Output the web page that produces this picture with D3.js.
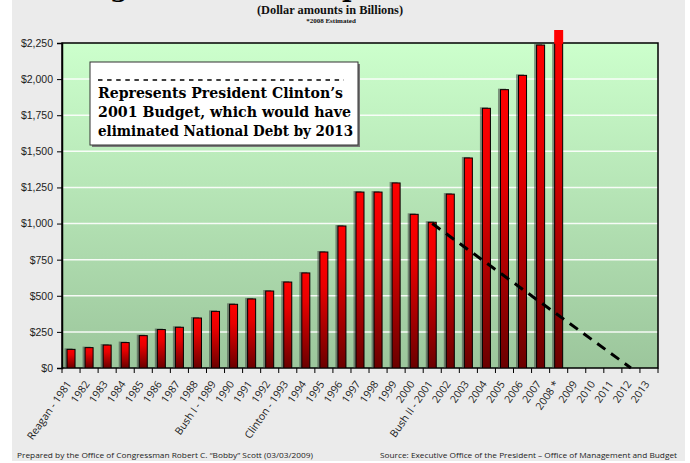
<!DOCTYPE html>
<html><head><meta charset="utf-8">
<script src="https://cdn.jsdelivr.net/npm/d3@7"></script>
<style>html,body{margin:0;padding:0;background:#fff;} svg{display:block}</style>
</head><body>
<svg id="chart" width="690" height="463"></svg>
<script>
// ---------- data ----------
const years = ["1981","1982","1983","1984","1985","1986","1987","1988","1989","1990","1991","1992","1993","1994","1995","1996","1997","1998","1999","2000","2001","2002","2003","2004","2005","2006","2007","2008","2009","2010","2011","2012","2013"];
const yearLabels = ["Reagan - 1981","1982","1983","1984","1985","1986","1987","1988","Bush I - 1989","1990","1991","1992","Clinton - 1993","1994","1995","1996","1997","1998","1999","2000","Bush II - 2001","2002","2003","2004","2005","2006","2007","2008 *","2009","2010","2011","2012","2013"];
const debtValues = [129,141,159,176,224,266,282,346,392,441,478,533,595,658,803,983,1218,1218,1281,1064,1009,1204,1454,1798,1927,2026,2236,2340,null,null,null,null,null];
const clintonYears = ["2001","2012"];
const clintonValues = [1000, 0];
const yTicks = [0,250,500,750,1000,1250,1500,1750,2000,2250];
const titleText = "Budget & Debt Comparison";
const subtitleText = "(Dollar amounts in Billions)";
const noteText = "*2008 Estimated";
const legendLines = ["Represents President Clinton\u2019s","2001 Budget, which would have","eliminated National Debt by 2013"];
const footLeft = "Prepared by the Office of Congressman Robert C. \u201cBobby\u201d Scott (03/03/2009)";
const footRight = "Source: Executive Office of the President \u2013 Office of Management and Budget";

// ---------- layout ----------
const W = 690, H = 463;
const plot = {left: 62, right: 658, top: 43, bottom: 368};
const svg = d3.select("#chart");
const defs = svg.append("defs");

const bgGrad = defs.append("linearGradient").attr("id","bgGrad").attr("x1",0).attr("y1",0).attr("x2",0).attr("y2",1);
bgGrad.append("stop").attr("offset","0%").attr("stop-color","#ccffcc");
bgGrad.append("stop").attr("offset","100%").attr("stop-color","#9cc69c");

const barGrad = defs.append("linearGradient").attr("id","barGrad").attr("x1",0).attr("y1",0).attr("x2",0).attr("y2",1);
barGrad.append("stop").attr("offset","0%").attr("stop-color","#ff0000");
barGrad.append("stop").attr("offset","30%").attr("stop-color","#e80000");
barGrad.append("stop").attr("offset","100%").attr("stop-color","#6a0000");

defs.append("clipPath").attr("id","plotClip").append("rect")
  .attr("x",plot.left-4).attr("y",plot.top).attr("width",plot.right-plot.left+8).attr("height",plot.bottom-plot.top);

// page background
svg.append("rect").attr("x",0).attr("y",0).attr("width",W).attr("height",H).attr("fill","#ffffff");
svg.append("rect").attr("x",12).attr("y",0).attr("width",673).attr("height",461).attr("fill","#ebebeb");

const x = d3.scaleBand().domain(years).range([plot.left, plot.right]).padding(0);
const y = d3.scaleLinear().domain([0, 2250]).range([plot.bottom, plot.top]);

// plot area
svg.append("rect").attr("x",plot.left).attr("y",plot.top)
  .attr("width",plot.right-plot.left).attr("height",plot.bottom-plot.top).attr("fill","url(#bgGrad)");

// gridlines
svg.append("g").selectAll("line").data(yTicks.filter(d => d > 0 && d < 2250)).join("line")
  .attr("x1",plot.left).attr("x2",plot.right).attr("y1",d=>y(d)).attr("y2",d=>y(d))
  .attr("stroke","#ffffff").attr("stroke-width",1.5).attr("opacity",0.9);

// frame
svg.append("rect").attr("x",plot.left).attr("y",plot.top)
  .attr("width",plot.right-plot.left).attr("height",plot.bottom-plot.top)
  .attr("fill","none").attr("stroke","#000").attr("stroke-width",1.5);

// bars
const barData = years.map((yr,i)=>({yr, v: debtValues[i]})).filter(d => d.v != null);
const bw = 8;
const cx = d => x(d.yr) + x.bandwidth()/2;
const gBars = svg.append("g").attr("clip-path","url(#plotClip)");
gBars.selectAll("rect.shadow").data(barData).join("rect").attr("class","shadow")
  .attr("x",d=>cx(d)-bw/2-2.5).attr("y",d=>y(d.v)-1)
  .attr("width",bw).attr("height",d=>plot.bottom-y(d.v)+1)
  .attr("fill","#404040").attr("opacity",0.55);
gBars.selectAll("rect.bar").data(barData).join("rect").attr("class","bar")
  .attr("x",d=>cx(d)-bw/2).attr("y",d=>y(d.v))
  .attr("width",bw).attr("height",d=>plot.bottom-y(d.v))
  .attr("fill","url(#barGrad)").attr("stroke","#000").attr("stroke-width",1);
// overflow part of bars above the top of the axis
svg.append("g").selectAll("rect").data(barData.filter(d=>d.v>2250)).join("rect")
  .attr("x",d=>cx(d)-bw/2-0.5).attr("y",d=>y(d.v))
  .attr("width",bw+1).attr("height",d=>plot.top-y(d.v)+0.8)
  .attr("fill","#ff0000");

// Clinton budget dashed line
const lineData = clintonYears.map((yr,i)=>({yr, v: clintonValues[i]}));
svg.append("path").datum(lineData)
  .attr("d", d3.line().x(d=>x(d.yr)+x.bandwidth()/2).y(d=>y(d.v)))
  .attr("fill","none").attr("stroke","#000").attr("stroke-width",3)
  .attr("stroke-dasharray","10,7");

// y axis
const yAxis = svg.append("g").attr("transform",`translate(${plot.left},0)`)
  .call(d3.axisLeft(y).tickValues(yTicks).tickFormat(d=>"$"+d3.format(",")(d)).tickSize(5).tickPadding(4));
yAxis.select(".domain").attr("stroke","#000").attr("stroke-width",1.5);
yAxis.selectAll(".tick line").attr("stroke","#000");
yAxis.selectAll("text").attr("font-family","Liberation Sans, Arial, sans-serif").attr("font-size",10.5).attr("fill","#222");

// x axis ticks at boundaries
const bounds = years.map(d=>x(d)).concat([plot.right]);
svg.append("g").selectAll("line").data(bounds).join("line")
  .attr("x1",d=>d).attr("x2",d=>d).attr("y1",plot.bottom).attr("y2",plot.bottom+5)
  .attr("stroke","#000").attr("stroke-width",1);
// x labels
svg.append("g").selectAll("text").data(years).join("text")
  .attr("transform",(d)=>`translate(${x(d)+x.bandwidth()/2+1},${plot.bottom+16}) rotate(-55)`)
  .attr("text-anchor","end")
  .attr("font-family","Open Sans, Liberation Sans, sans-serif").attr("font-size",10.5).attr("fill","#222")
  .text((d,i)=>yearLabels[i]);

// title (mostly cropped above the picture)
const title = svg.append("text").text(titleText)
  .attr("font-family","DejaVu Serif, serif").attr("font-weight","bold").attr("font-size",36).attr("fill","#000");
{
  const node = title.node();
  const gi = titleText.indexOf("g"), pi = titleText.indexOf("p");
  let gx = node.getStartPositionOfChar(gi).x, px = node.getStartPositionOfChar(pi).x;
  const fs = 36 * (342-110)/(px-gx);
  title.attr("font-size",fs);
  gx = node.getStartPositionOfChar(gi).x;
  title.attr("x",110-gx).attr("y",3-0.23*fs);
}

svg.append("text").attr("x",330).attr("y",14).attr("text-anchor","middle")
  .attr("font-family","Liberation Serif, serif").attr("font-weight","bold").attr("font-size",12)
  .attr("textLength",146).attr("lengthAdjust","spacingAndGlyphs").attr("fill","#111").text(subtitleText);
svg.append("text").attr("x",331).attr("y",23).attr("text-anchor","middle")
  .attr("font-family","Liberation Serif, serif").attr("font-weight","bold").attr("font-size",7)
  .attr("fill","#111").text(noteText);

// legend box
const lg = svg.append("g");
lg.append("rect").attr("x",92).attr("y",64).attr("width",268).attr("height",83).attr("fill","#777");
lg.append("rect").attr("x",90).attr("y",62).attr("width",268).attr("height",83)
  .attr("fill","#fff").attr("stroke","#333").attr("stroke-width",1);
lg.append("line").attr("x1",98).attr("x2",344).attr("y1",80).attr("y2",80)
  .attr("stroke","#000").attr("stroke-width",1.3).attr("stroke-dasharray","4.5,4.6");
const legendWidths = [245, 253, 255];
lg.selectAll("text.leg").data(legendLines).join("text").attr("class","leg")
  .attr("x",98).attr("y",(d,i)=>98+i*19)
  .attr("font-family","DejaVu Serif, serif").attr("font-weight","bold").attr("font-size",15.5)
  .attr("textLength",(d,i)=>legendWidths[i]).attr("lengthAdjust","spacingAndGlyphs")
  .attr("fill","#000").text(d=>d);

// footers
svg.append("text").attr("x",17).attr("y",458)
  .attr("font-family","Open Sans, sans-serif").attr("font-size",8)
  .attr("textLength",296).attr("lengthAdjust","spacingAndGlyphs").attr("fill","#222").text(footLeft);
svg.append("text").attr("x",380).attr("y",458)
  .attr("font-family","Open Sans, sans-serif").attr("font-size",8)
  .attr("textLength",297).attr("lengthAdjust","spacingAndGlyphs").attr("fill","#222").text(footRight);
</script>
</body></html>
